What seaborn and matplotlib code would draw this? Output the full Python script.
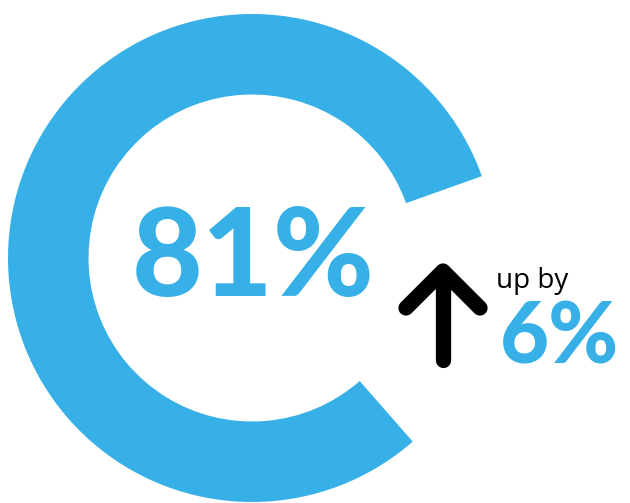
import matplotlib
matplotlib.use("Agg")
import matplotlib.pyplot as plt
import seaborn as sns

# data
labels = ["Share", "Remainder"]
values = [81, 19]
change = 6
blue = "#36B0E6"

sns.set_theme(style="white")
plt.rcParams['font.family'] = ['Open Sans', 'DejaVu Sans']

W, H = 630, 503
fig = plt.figure(figsize=(W / 100, H / 100), dpi=100)
fig.patch.set_facecolor("white")

# donut axes: center (252, 258) px from top, radius 244 px
ax = fig.add_axes([8 / W, 1 / H, 488 / W, 488 / H])
ax.pie(values, colors=[blue, "none"], startangle=19.6, counterclock=True,
       radius=1, wedgeprops=dict(width=0.33, edgecolor="none"))
ax.set_xlim(-1, 1)
ax.set_ylim(-1, 1)
ax.set_aspect("equal")
ax.axis("off")

# overlay axes in pixel coords (y down)
ov = fig.add_axes([0, 0, 1, 1])
ov.set_xlim(0, W)
ov.set_ylim(H, 0)
ov.axis("off")
ov.patch.set_alpha(0)

ov.text(253, 296, f"{values[0]}%", color=blue, fontsize=88, fontweight="black",
        family=["Lato", "DejaVu Sans"], ha="center", va="baseline")

# arrow
kw = dict(color="black", lw=11, solid_capstyle="round", solid_joinstyle="round")
ov.plot([443, 443], [272, 360], **kw)
ov.plot([406, 443, 480], [308, 271, 308], **kw)

ov.text(496, 288, "up by", color="black", fontsize=20, ha="left", va="baseline")
ov.text(500, 363, f"{change}%", color=blue, fontsize=61, fontweight="black",
        family=["Lato", "DejaVu Sans"], ha="left", va="baseline")

fig.savefig("out.png", dpi=100, facecolor="white")
